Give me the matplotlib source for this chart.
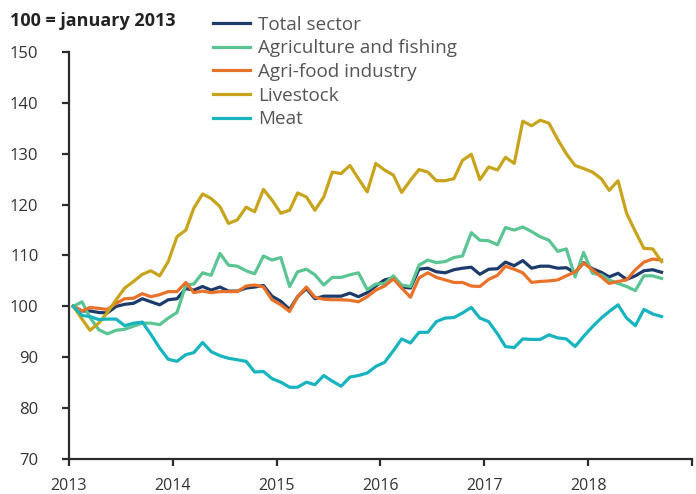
import matplotlib
matplotlib.use("Agg")
import matplotlib.pyplot as plt
import pandas as pd

# monthly index, 100 = january 2013
months = pd.date_range("2013-01-01", periods=69, freq="MS") + pd.Timedelta(days=15)

total_sector = [
    100.0, 99.1, 99.1, 98.8, 98.7, 100.0, 100.4, 100.6, 101.5, 100.9, 100.3, 101.3,
    101.5, 103.5, 103.2, 103.9, 103.2, 103.8, 103.0, 103.0, 103.6, 103.8, 104.1, 102.0,
    101.0, 99.4, 101.9, 103.5, 101.5, 102.0, 102.0, 102.0, 102.6, 101.9, 102.7, 104.0,
    105.2, 105.6, 103.8, 103.6, 107.3, 107.5, 106.8, 106.6, 107.2, 107.5, 107.7, 106.3,
    107.3, 107.4, 108.7, 108.0, 109.0, 107.5, 107.9, 107.9, 107.5, 107.6, 106.6, 108.6,
    107.4, 106.7, 105.8, 106.5, 105.3, 106.0, 107.0, 107.2, 106.7,
]
agri_fishing = [
    100.0, 100.9, 97.8, 95.4, 94.6, 95.3, 95.5, 96.1, 96.7, 96.7, 96.4, 97.7,
    98.8, 104.2, 104.4, 106.6, 106.1, 110.4, 108.1, 107.9, 107.0, 106.4, 109.9, 109.1,
    109.6, 103.9, 106.8, 107.3, 106.2, 104.2, 105.7, 105.7, 106.2, 106.6, 103.3, 104.4,
    104.5, 106.0, 104.2, 103.9, 108.1, 109.1, 108.6, 108.8, 109.6, 109.9, 114.5, 113.0,
    112.9, 112.1, 115.5, 115.0, 115.6, 114.7, 113.7, 113.0, 110.8, 111.3, 105.8, 110.6,
    106.5, 106.2, 105.2, 104.5, 103.9, 103.1, 106.0, 106.0, 105.5,
]
agri_food = [
    100.0, 99.1, 99.8, 99.6, 99.4, 100.6, 101.5, 101.6, 102.5, 101.9, 102.3, 102.9,
    102.9, 104.7, 102.7, 103.0, 102.7, 102.9, 102.9, 102.9, 104.0, 104.2, 103.8, 101.3,
    100.3, 99.0, 101.9, 103.8, 101.8, 101.4, 101.3, 101.3, 101.2, 100.9, 101.9, 103.2,
    104.0, 105.4, 103.6, 101.8, 105.6, 106.6, 105.7, 105.2, 104.7, 104.7, 104.0, 103.9,
    105.3, 106.1, 107.9, 107.3, 106.6, 104.7, 104.9, 105.0, 105.2, 106.0, 106.8, 108.5,
    107.2, 105.8, 104.5, 104.9, 105.2, 107.2, 108.7, 109.3, 109.1,
]
livestock = [
    100.0, 97.5, 95.3, 96.7, 98.8, 101.3, 103.6, 104.9, 106.3, 107.0, 106.0, 108.8,
    113.7, 115.0, 119.3, 122.1, 121.2, 119.6, 116.3, 117.0, 119.5, 118.6, 123.0, 120.9,
    118.3, 118.9, 122.3, 121.5, 118.9, 121.5, 126.4, 126.1, 127.7, 125.1, 122.5, 128.1,
    126.8, 125.8, 122.4, 124.8, 126.9, 126.4, 124.7, 124.7, 125.1, 128.7, 129.9, 124.9,
    127.4, 126.8, 129.3, 128.1, 136.4, 135.5, 136.6, 136.0, 132.8, 130.0, 127.7, 127.1,
    126.4, 125.1, 122.8, 124.7, 118.3, 114.7, 111.4, 111.3, 108.8,
]
meat = [
    100.0, 98.2, 98.0, 97.4, 97.5, 97.5, 96.2, 96.7, 96.9, 94.5, 91.8, 89.6,
    89.2, 90.5, 90.9, 92.9, 91.1, 90.3, 89.8, 89.5, 89.2, 87.1, 87.2, 85.8,
    85.1, 84.1, 84.1, 85.1, 84.6, 86.4, 85.3, 84.3, 86.1, 86.4, 86.9, 88.2,
    89.0, 91.3, 93.6, 92.8, 94.9, 94.9, 97.0, 97.7, 97.8, 98.7, 99.8, 97.7,
    97.0, 94.6, 92.1, 91.9, 93.6, 93.5, 93.5, 94.4, 93.8, 93.6, 92.1, 94.1,
    96.0, 97.7, 99.0, 100.3, 97.7, 96.2, 99.4, 98.5, 98.0,
]

series = [
    ("Total sector", total_sector, "#1c3b6b"),
    ("Agriculture and fishing", agri_fishing, "#5bc493"),
    ("Agri-food industry", agri_food, "#e9722a"),
    ("Livestock", livestock, "#c8a31c"),
    ("Meat", meat, "#17b4c0"),
]

plt.rcParams["font.family"] = ["Open Sans", "DejaVu Sans"]

fig = plt.figure(figsize=(6.96, 4.94), dpi=100)
ax = fig.add_axes([0.0991, 0.0709, 0.8951, 0.8238])

for name, vals, col in series:
    ax.plot(months, vals, color=col, lw=2.3, label=name, solid_joinstyle="round")

ax.set_ylim(70, 150)
ax.set_yticks(range(70, 151, 10))
ax.set_xlim(pd.Timestamp("2013-01-01"), pd.Timestamp("2019-01-01"))
xt = [pd.Timestamp(f"{y}-01-01") for y in range(2013, 2020)]
ax.set_xticks(xt)
ax.set_xticklabels([str(y) for y in range(2013, 2019)] + [""])

for s in ["top", "right"]:
    ax.spines[s].set_visible(False)
for s in ["left", "bottom"]:
    ax.spines[s].set_color("#2b2b2b")
    ax.spines[s].set_linewidth(1.6)

ax.tick_params(axis="y", length=5, width=1.6, color="#2b2b2b", pad=17,
               labelsize=12, labelcolor="#333333")
ax.tick_params(axis="x", length=5, width=1.6, color="#2b2b2b", pad=9,
               labelsize=11.5, labelcolor="#333333")

fig.text(10 / 696, 1 - 21 / 494, "100 = january 2013", fontsize=13,
         fontweight="bold", color="#222222", va="center", ha="left")

fig.legend(loc="upper left", bbox_to_anchor=(205 / 696, 1 - 8 / 494),
           frameon=False, fontsize=13.6, handlelength=2.0, handletextpad=0.4,
           labelspacing=0.3, labelcolor="#555555", borderaxespad=0)

fig.savefig("out.png", dpi=100)
